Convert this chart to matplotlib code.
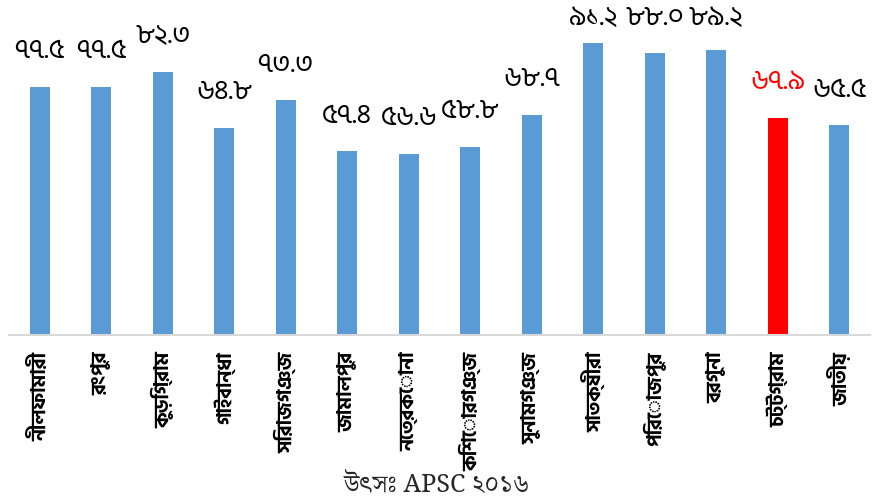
import matplotlib
matplotlib.use("Agg")
import matplotlib.pyplot as plt

plt.rcParams['font.family'] = ['Hind Siliguri', 'DejaVu Sans']

districts = ['নীলফামারী', 'রংপুর', 'কুড়িগ্রাম', 'গাইবান্ধা', 'সিরাজগঞ্জ', 'জামালপুর',
             'নেত্রকোনা', 'কিশোরগঞ্জ', 'সুনামগঞ্জ', 'সাতক্ষীরা', 'পিরোজপুর', 'বরগুনা',
             'চট্টগ্রাম', 'জাতীয়']
values = [77.5, 77.5, 82.3, 64.8, 73.3, 57.4, 56.6, 58.8, 68.7, 91.2, 88.0, 89.2, 67.9, 65.5]
value_labels = ['৭৭.৫', '৭৭.৫', '৮২.৩', '৬৪.৮', '৭৩.৩', '৫৭.৪', '৫৬.৬', '৫৮.৮', '৬৮.৭',
                '৯১.২', '৮৮.০', '৮৯.২', '৬৭.৯', '৬৫.৫']
highlight = 'চট্টগ্রাম'
source = 'উৎসঃ APSC ২০১৬'

blue = '#5B9BD5'
red = '#FF0000'
colors = [red if d == highlight else blue for d in districts]

fig = plt.figure(figsize=(8.74, 4.99), dpi=100)
ax = fig.add_axes([0.0103, 0.3287, 0.9851, 0.6713])

x = range(len(districts))
bars = ax.bar(x, values, width=0.33, color=colors)

ymax = 104.7
label_gap = 11.2    # data units between bar top and label centre
label_cap = 99.0    # labels are kept inside the plot area
for b, lab, c in zip(bars, value_labels, colors):
    y = min(b.get_height() + label_gap, label_cap)
    ax.text(b.get_x() + b.get_width() / 2, y, lab, ha='center', va='center',
            fontsize=20, color=red if c == red else 'black')

ax.set_xlim(-0.5, len(districts) - 0.5)
ax.set_ylim(0, ymax)
ax.set_xticks(list(x))
ax.set_xticklabels(districts, rotation=90, fontsize=14.5, fontweight='bold')
ax.tick_params(axis='x', length=0, pad=12)
ax.set_yticks([])
for s in ['top', 'right', 'left']:
    ax.spines[s].set_visible(False)
ax.spines['bottom'].set_color('#D9D9D9')
ax.spines['bottom'].set_linewidth(1.5)

fig.text(0.5, 0.028, source, ha='center', va='center', fontsize=18, color='#262626',
         family=['Noto Serif Bengali', 'Liberation Serif'])

fig.savefig('out.png', dpi=100)
